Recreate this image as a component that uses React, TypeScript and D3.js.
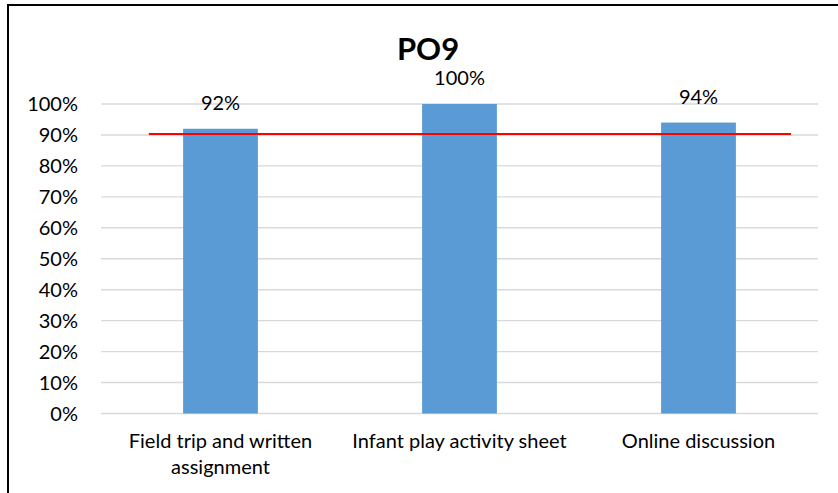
import React from "react";
import * as d3 from "d3";

const categories = ["Field trip and written assignment", "Infant play activity sheet", "Online discussion"];
const categoryLines = [["Field trip and written", "assignment"], ["Infant play activity sheet"], ["Online discussion"]];
const values = [0.92, 1.0, 0.94];
const valueLabels = ["92%", "100%", "94%"];
const yTicks = [0, 0.1, 0.2, 0.3, 0.4, 0.5, 0.6, 0.7, 0.8, 0.9, 1.0];
const targetValue = 0.903;
const targetSpan = [-0.3, 2.387]; // in category-index units
const title = "PO9";

const W = 838;
const H = 493;
const FONT = "Lato, 'Open Sans', sans-serif";

export default function App() {
  const plotLeft = 101;
  const plotRight = 818;
  const x = d3.scaleBand<string>().domain(categories).range([plotLeft, plotRight]).paddingInner(0.687).paddingOuter(0.3435);
  const xi = d3.scaleLinear().domain([-0.5, categories.length - 0.5]).range([plotLeft, plotRight]);
  const y = d3.scaleLinear().domain([0, 1]).range([413.5, 104]);

  return (
    <svg width={W} height={H} style={{ position: "absolute", left: 0, top: 0, background: "#fff" }} fontFamily={FONT}>
      <rect x={0} y={0} width={W} height={H} fill="#fff" />
      <rect x={8} y={5} width={W + 20} height={H + 20} fill="none" stroke="#000" strokeWidth={2} />
      <text x={428} y={60} textAnchor="middle" fontSize={31} fontWeight="bold" fill="#000">{title}</text>
      {yTicks.map((t) => (
        <g key={t}>
          <line x1={plotLeft} x2={plotRight} y1={y(t)} y2={y(t)} stroke="#D9D9D9" strokeWidth={1.4} />
          <text x={78} y={y(t) + 7} textAnchor="end" fontSize={20} fill="#000">{d3.format(".0%")(t)}</text>
        </g>
      ))}
      {categories.map((c, i) => (
        <rect key={c} x={x(c)} y={y(values[i])} width={x.bandwidth()} height={y(0) - y(values[i])} fill="#5B9BD5" />
      ))}
      <line x1={xi(targetSpan[0])} x2={xi(targetSpan[1])} y1={y(targetValue)} y2={y(targetValue)} stroke="#FF0000" strokeWidth={2} />
      {categories.map((c, i) => (
        <text key={c + "l"} x={(x(c) as number) + x.bandwidth() / 2} y={y(values[i]) - 19} textAnchor="middle" fontSize={20} fill="#000">{valueLabels[i]}</text>
      ))}
      {categories.map((c, i) => (
        <text key={c + "c"} textAnchor="middle" fontSize={20} fill="#000">
          {categoryLines[i].map((ln, k) => (
            <tspan key={k} x={(x(c) as number) + x.bandwidth() / 2} y={448 + k * 25.5}>{ln}</tspan>
          ))}
        </text>
      ))}
    </svg>
  );
}
